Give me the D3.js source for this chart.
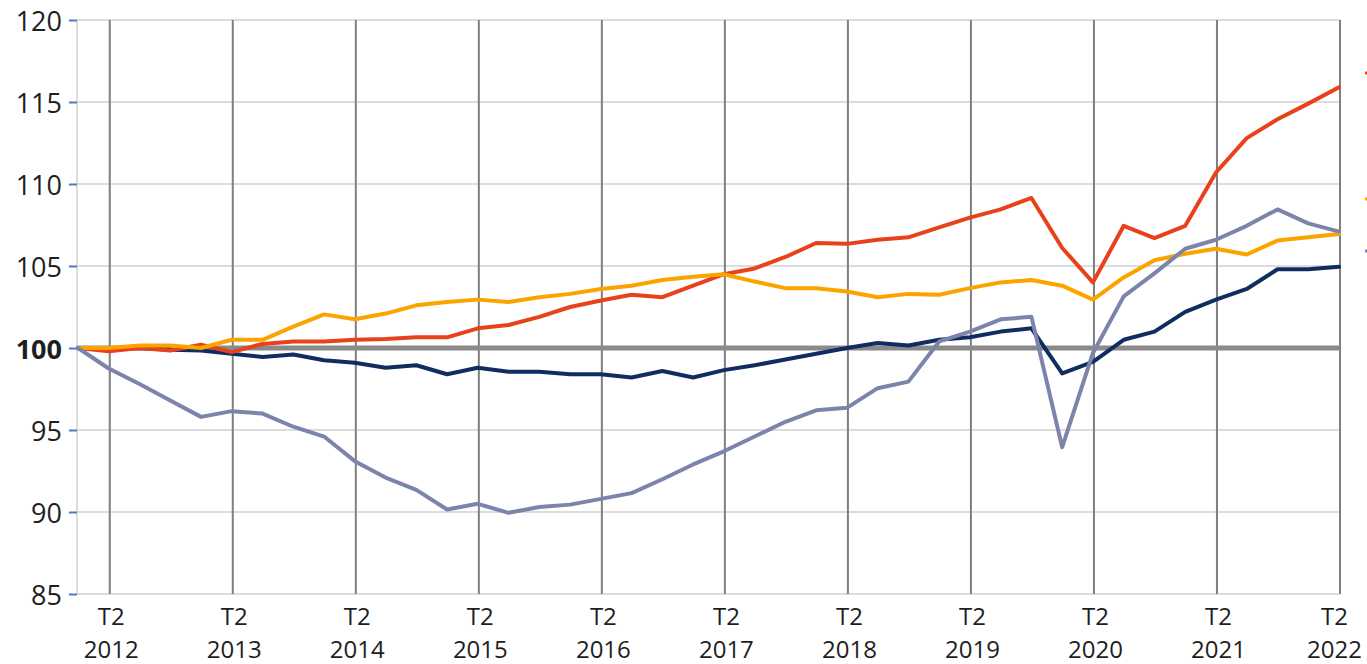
<!DOCTYPE html>
<html>
<head>
<meta charset="utf-8">
<script src="https://cdn.jsdelivr.net/npm/d3@7/dist/d3.min.js"></script>
<style>
  html, body { margin: 0; padding: 0; background: #fff; }
  svg { display: block; }
  text { font-family: "Open Sans", "Noto Sans", sans-serif; fill: #1e1e1e; }
</style>
</head>
<body>
<svg id="chart" width="1367" height="664"></svg>
<script>
// ---- data ----
const quarters = [
  "T1 2012","T2 2012","T3 2012","T4 2012",
  "T1 2013","T2 2013","T3 2013","T4 2013",
  "T1 2014","T2 2014","T3 2014","T4 2014",
  "T1 2015","T2 2015","T3 2015","T4 2015",
  "T1 2016","T2 2016","T3 2016","T4 2016",
  "T1 2017","T2 2017","T3 2017","T4 2017",
  "T1 2018","T2 2018","T3 2018","T4 2018",
  "T1 2019","T2 2019","T3 2019","T4 2019",
  "T1 2020","T2 2020","T3 2020","T4 2020",
  "T1 2021","T2 2021","T3 2021","T4 2021",
  "T1 2022","T2 2022"
];
const tickQuarters = ["T2 2012","T2 2013","T2 2014","T2 2015","T2 2016","T2 2017",
                      "T2 2018","T2 2019","T2 2020","T2 2021","T2 2022"];
const yTicks = [85, 90, 95, 100, 105, 110, 115, 120];

const seriesRed = [100,99.8,100.0,99.85,100.2,99.75,100.25,100.4,100.4,100.5,
  100.55,100.65,100.65,101.2,101.4,101.9,102.5,102.9,103.25,103.1,
  103.8,104.5,104.85,105.55,106.4,106.35,106.6,106.75,107.35,107.95,
  108.45,109.15,106.1,104.0,107.45,106.7,107.45,110.7,112.8,113.95,
  114.9,115.9];
const seriesOrange = [100,100.0,100.15,100.15,100.0,100.5,100.5,101.3,102.05,101.75,
  102.1,102.6,102.8,102.95,102.8,103.1,103.3,103.6,103.8,104.15,
  104.35,104.5,104.05,103.65,103.65,103.45,103.1,103.3,103.25,103.65,
  104.0,104.15,103.8,102.95,104.3,105.35,105.75,106.05,105.7,106.55,
  106.75,106.95];
const seriesNavy = [100,99.9,100.0,99.9,99.85,99.65,99.45,99.6,99.25,99.1,
  98.8,98.95,98.4,98.8,98.55,98.55,98.4,98.4,98.2,98.6,
  98.2,98.65,98.95,99.3,99.65,100.0,100.3,100.15,100.5,100.65,
  101.0,101.2,98.45,99.15,100.5,101.0,102.2,102.95,103.6,104.8,
  104.8,104.95];
const seriesGrey = [100,98.75,97.8,96.8,95.8,96.15,96.0,95.2,94.6,93.1,
  92.1,91.35,90.15,90.5,89.95,90.3,90.45,90.8,91.15,92.0,
  92.9,93.7,94.6,95.5,96.2,96.35,97.55,97.95,100.4,101.0,
  101.75,101.9,93.95,99.7,103.15,104.55,106.05,106.6,107.45,108.45,
  107.6,107.1];

const series = [
  { name: "navy",   values: seriesNavy,   color: "#0f2d5f" },
  { name: "red",    values: seriesRed,    color: "#e8421c" },
  { name: "orange", values: seriesOrange, color: "#fba400" },
  { name: "grey",   values: seriesGrey,   color: "#7d84ab" }
];
const legendStubs = [
  { color: "#e8421c", y: 73 },
  { color: "#fba400", y: 199 },
  { color: "#7d84ab", y: 251 }
];

// ---- layout ----
const svg = d3.select("#chart");
const plotLeft = 77, plotRight = 1340, plotTop = 20, plotBottom = 594;

const x = d3.scalePoint().domain(quarters).range([78, 1339]);
const y = d3.scaleLinear().domain([85, 120]).range([plotBottom, plotTop]);

// horizontal gridlines
svg.append("g").selectAll("line").data(yTicks).join("line")
  .attr("x1", plotLeft).attr("x2", plotRight)
  .attr("y1", d => y(d)).attr("y2", d => y(d))
  .attr("stroke", "#dcdcdc").attr("stroke-width", 2);

// left axis line
svg.append("line")
  .attr("x1", plotLeft).attr("x2", plotLeft)
  .attr("y1", plotTop).attr("y2", plotBottom)
  .attr("stroke", "#dcdcdc").attr("stroke-width", 2);

// vertical gridlines at T2
svg.append("g").selectAll("line").data(tickQuarters).join("line")
  .attr("x1", d => x(d) + 1).attr("x2", d => x(d) + 1)
  .attr("y1", plotTop).attr("y2", plotBottom)
  .attr("stroke", "#7f7f7f").attr("stroke-width", 2);

// 100 reference line
svg.append("line")
  .attr("x1", plotLeft).attr("x2", plotRight)
  .attr("y1", y(100)).attr("y2", y(100))
  .attr("stroke", "#8a8a8a").attr("stroke-width", 5);

// y axis
const yAxis = d3.axisLeft(y).tickValues(yTicks).tickSize(8).tickPadding(7)
  .tickFormat(d => d);
const gy = svg.append("g").attr("transform", `translate(${plotLeft},0)`).call(yAxis);
gy.select(".domain").remove();
gy.selectAll(".tick line").attr("stroke", "#4a7ac8").attr("stroke-width", 2);
gy.selectAll(".tick text")
  .attr("font-size", 27)
  .attr("dy", "0.4em")
  .attr("font-family", "'Open Sans', 'Noto Sans', sans-serif")
  .attr("fill", "#1e1e1e")
  .attr("font-weight", d => d === 100 ? "bold" : "normal");

// x axis: quarter and year as two separate labels per tick
const xAxis = d3.axisBottom(x).tickValues(tickQuarters).tickSize(0).tickFormat(() => "");
const gx = svg.append("g").attr("transform", `translate(0,${plotBottom})`).call(xAxis);
gx.select(".domain").remove();
gx.selectAll(".tick").each(function(d) {
  const parts = d.split(" ");
  const g = d3.select(this);
  g.select("text").remove();
  const shift = x(d) > 1330 ? -5 : 2;
  g.append("text")
    .attr("x", shift).attr("y", 31)
    .attr("text-anchor", "middle")
    .attr("font-size", 24)
    .attr("fill", "#1e1e1e")
    .text(parts[0]);
  g.append("text")
    .attr("x", shift).attr("y", 63.5)
    .attr("text-anchor", "middle")
    .attr("font-size", 24)
    .attr("fill", "#1e1e1e")
    .text(parts[1]);
});

// lines
const line = d3.line().x((d, i) => x(quarters[i])).y(d => y(d));
svg.append("g").selectAll("path").data(series).join("path")
  .attr("d", d => line(d.values))
  .attr("fill", "none")
  .attr("stroke", d => d.color)
  .attr("stroke-width", 4)
  .attr("stroke-linejoin", "round")
  .attr("stroke-linecap", "round");

// cut-off legend keys at the right edge
svg.append("g").selectAll("line").data(legendStubs).join("line")
  .attr("x1", 1365).attr("x2", 1390)
  .attr("y1", d => d.y).attr("y2", d => d.y)
  .attr("stroke", d => d.color).attr("stroke-width", 3);
</script>
</body>
</html>
